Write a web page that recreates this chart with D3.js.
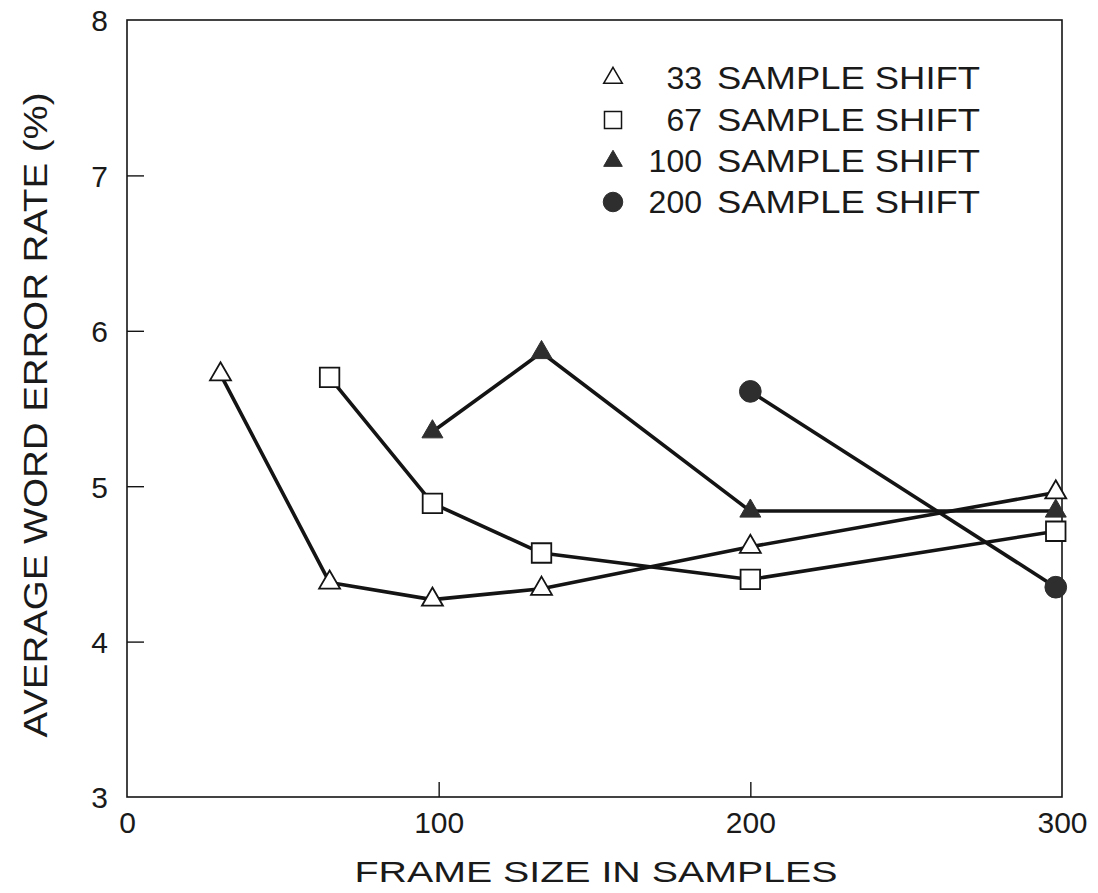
<!DOCTYPE html>
<html>
<head>
<meta charset="utf-8">
<script src="https://cdn.jsdelivr.net/npm/d3@7"></script>
<style>
  html, body { margin: 0; padding: 0; background: #ffffff; }
  svg { display: block; }
  text { font-family: "Liberation Sans", Arial, Helvetica, sans-serif; fill: #1a1a1a; }
</style>
</head>
<body>
<svg id="chart" width="1098" height="893"></svg>
<script>
// Frame size (samples) and average word error rate (%) for each shift
const shift33Frames  = [30, 65, 98, 133, 200, 298];
const shift33Errors  = [5.72, 4.38, 4.27, 4.34, 4.61, 4.96];
const shift67Frames  = [65, 98, 133, 200, 298];
const shift67Errors  = [5.70, 4.89, 4.57, 4.40, 4.71];
const shift100Frames = [98, 133, 200, 298];
const shift100Errors = [5.35, 5.86, 4.84, 4.84];
const shift200Frames = [200, 298];
const shift200Errors = [5.61, 4.35];

const seriesNumbers = ["33", "67", "100", "200"];
const seriesLabel   = "SAMPLE SHIFT";
const xTicks = [0, 100, 200, 300];
const yTicks = [3, 4, 5, 6, 7, 8];

const series = [
  { num: seriesNumbers[0], xs: shift33Frames,  ys: shift33Errors,  shape: d3.symbolTriangle, filled: false },
  { num: seriesNumbers[1], xs: shift67Frames,  ys: shift67Errors,  shape: d3.symbolSquare,   filled: false },
  { num: seriesNumbers[2], xs: shift100Frames, ys: shift100Errors, shape: d3.symbolTriangle, filled: true },
  { num: seriesNumbers[3], xs: shift200Frames, ys: shift200Errors, shape: d3.symbolCircle,   filled: true }
];

const svg = d3.select("#chart");
const plotLeft = 127, plotRight = 1062, plotTop = 20, plotBottom = 797;

const x = d3.scaleLinear().domain([0, 300]).range([plotLeft, plotRight]);
const y = d3.scaleLinear().domain([3, 8]).range([plotBottom, plotTop]);

const ink = "#141414";
const fillDark = "#2e2e2e";

// plot frame
svg.append("rect")
  .attr("x", plotLeft).attr("y", plotTop)
  .attr("width", plotRight - plotLeft).attr("height", plotBottom - plotTop)
  .attr("fill", "none").attr("stroke", ink).attr("stroke-width", 1.6);

// inward ticks on left and bottom axes
const yAxis = d3.axisLeft(y).tickValues(yTicks).tickFormat(d3.format("d"))
  .tickSizeInner(-17).tickSizeOuter(0).tickPadding(20);
const gy = svg.append("g").attr("transform", `translate(${plotLeft},0)`).call(yAxis);
gy.select(".domain").remove();
gy.selectAll(".tick line").attr("stroke", ink).attr("stroke-width", 1.4)
  .filter(d => d === 3 || d === 8).remove();
gy.selectAll(".tick text").attr("font-size", 30).attr("fill", "#1a1a1a")
  .attr("font-family", "'Liberation Sans', Arial, sans-serif")
  .attr("x", -19).attr("dy", "0.36em");

const xAxis = d3.axisBottom(x).tickValues(xTicks).tickFormat(d3.format("d"))
  .tickSizeInner(-15).tickSizeOuter(0).tickPadding(0);
const gx = svg.append("g").attr("transform", `translate(0,${plotBottom})`).call(xAxis);
gx.select(".domain").remove();
gx.selectAll(".tick line").attr("stroke", ink).attr("stroke-width", 1.4)
  .filter(d => d === 0 || d === 300).remove();
gx.selectAll(".tick text").attr("font-size", 30).attr("fill", "#1a1a1a")
  .attr("font-family", "'Liberation Sans', Arial, sans-serif")
  .attr("y", 36).attr("dy", 0);

// axis titles
svg.append("text")
  .attr("x", 596).attr("y", 882)
  .attr("text-anchor", "middle")
  .attr("font-size", 30)
  .attr("textLength", 483).attr("lengthAdjust", "spacingAndGlyphs")
  .text("FRAME SIZE IN SAMPLES");

svg.append("text")
  .attr("transform", "translate(47,415) rotate(-90)")
  .attr("text-anchor", "middle")
  .attr("font-size", 34)
  .attr("textLength", 645).attr("lengthAdjust", "spacingAndGlyphs")
  .text("AVERAGE WORD ERROR RATE (%)");

// data lines and markers
const line = d3.line().x(d => x(d[0])).y(d => y(d[1]));

function sizeFor(shape, legend) {
  if (shape === d3.symbolTriangle) return legend ? 150 : 190;
  if (shape === d3.symbolSquare) return legend ? 290 : 380;
  return legend ? 300 : 370;
}

series.forEach(s => {
  const pts = s.xs.map((v, i) => [v, s.ys[i]]);
  svg.append("path")
    .datum(pts)
    .attr("d", line)
    .attr("fill", "none")
    .attr("stroke", ink)
    .attr("stroke-width", 3.6)
    .attr("stroke-linejoin", "round");
});

series.forEach(s => {
  const pts = s.xs.map((v, i) => [v, s.ys[i]]);
  svg.append("g").selectAll("path")
    .data(pts)
    .join("path")
    .attr("transform", d => `translate(${x(d[0])},${y(d[1])})`)
    .attr("d", d3.symbol().type(s.shape).size(sizeFor(s.shape, false)))
    .attr("fill", s.filled ? fillDark : "#ffffff")
    .attr("stroke", s.filled ? fillDark : ink)
    .attr("stroke-width", s.filled ? 1 : 1.8);
});

// legend
const legendRows = [89, 131, 172, 213];
const legend = svg.append("g");
series.forEach((s, i) => {
  const by = legendRows[i];
  legend.append("path")
    .attr("transform", `translate(613,${by - 11})`)
    .attr("d", d3.symbol().type(s.shape).size(sizeFor(s.shape, true)))
    .attr("fill", s.filled ? fillDark : "#ffffff")
    .attr("stroke", s.filled ? fillDark : ink)
    .attr("stroke-width", s.filled ? 1 : 1.5);
  legend.append("text")
    .attr("x", 702).attr("y", by)
    .attr("text-anchor", "end")
    .attr("font-size", 32)
    .text(s.num);
  legend.append("text")
    .attr("x", 717).attr("y", by)
    .attr("font-size", 32)
    .attr("textLength", 263).attr("lengthAdjust", "spacingAndGlyphs")
    .text(seriesLabel);
});
</script>
</body>
</html>
